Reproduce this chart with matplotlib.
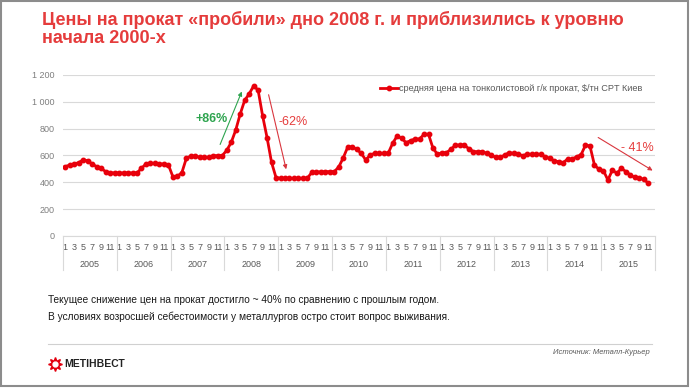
import matplotlib
matplotlib.use("Agg")
import matplotlib.pyplot as plt
from matplotlib.patches import Rectangle
import numpy as np

plt.rcParams['font.family'] = ['Liberation Sans', 'DejaVu Sans']

years = ['2005', '2006', '2007', '2008', '2009', '2010', '2011', '2012', '2013', '2014', '2015']
month_labels = ['1', '3', '5', '7', '9', '11']
prices = [
    517, 529, 537, 547, 567, 561, 537, 517, 505, 480, 472, 470,   # 2005
    470, 470, 470, 470, 470, 505, 537, 542, 542, 537, 537, 530,   # 2006
    442, 445, 472, 579, 596, 596, 586, 586, 586, 599, 599, 599,   # 2007
    638, 697, 788, 908, 1010, 1059, 1118, 1088, 897, 733, 549, 435,  # 2008
    430, 430, 430, 430, 430, 430, 432, 475, 478, 478, 480, 480,   # 2009
    480, 515, 584, 664, 664, 646, 616, 567, 604, 616, 616, 616,   # 2010
    616, 691, 745, 728, 696, 711, 723, 723, 758, 758, 654, 609,   # 2011
    621, 621, 646, 678, 678, 678, 650, 629, 629, 629, 616, 604,   # 2012
    586, 586, 604, 621, 616, 609, 599, 609, 609, 609, 609, 591,   # 2013
    579, 561, 554, 547, 572, 572, 591, 604, 678, 671, 529, 497,   # 2014
    487, 417, 492, 467, 505, 480, 455, 437, 430, 423, 393,        # 2015
]
series_name = 'средняя цена на тонколистовой г/к прокат, $/тн CPT Киев'
title = 'Цены на прокат «пробили» дно 2008 г. и приблизились к уровню\nначала 2000-х'
note1 = 'Текущее снижение цен на прокат достигло ~ 40% по сравнению с прошлым годом.'
note2 = 'В условиях возросшей себестоимости у металлургов остро стоит вопрос выживания.'
source = 'Источник: Металл-Курьер'

W, H = 690, 388
fig = plt.figure(figsize=(W / 100, H / 100), dpi=100)

# decorations layer in pixel coordinates
deco = fig.add_axes([0, 0, 1, 1])
deco.set_xlim(0, W)
deco.set_ylim(H, 0)
deco.axis('off')
deco.add_patch(Rectangle((1, 1), W - 3, H - 3, fill=False, edgecolor='#8c8c8c', lw=1.5))

RED_T = '#e53c3c'
fig.text(42 / W, 1 - 11 / H, title, color=RED_T, fontsize=13, fontweight='bold',
         va='top', ha='left', linespacing=1.08)

# main chart axes
left, right = 63, 655
bottom, top = 236, 75
ax = fig.add_axes([left / W, 1 - bottom / H, (right - left) / W, (bottom - top) / H])
x = np.arange(len(prices))
ax.plot(x, prices, color='#e8000b', lw=2.0, marker='o', markersize=3.2,
        label=series_name, zorder=3)
ax.set_xlim(-0.5, 12 * len(years) - 0.5)
ax.set_ylim(0, 1200)
ax.set_yticks(np.arange(0, 1201, 200))
ax.set_yticklabels(['0', '200', '400', '600', '800', '1 000', '1 200'])
ax.grid(axis='y', color='#d9d9d9', lw=0.8)
ax.set_axisbelow(True)
for s in ['top', 'right', 'left']:
    ax.spines[s].set_visible(False)
ax.spines['bottom'].set_color('#d9d9d9')
ax.tick_params(axis='y', length=0, labelsize=6.5, labelcolor='#7f7f7f', pad=6)

# month ticks
tick_pos = []
tick_lab = []
for yi in range(len(years)):
    for k, m in enumerate(month_labels):
        p = yi * 12 + 2 * k
        tick_pos.append(p)
        tick_lab.append(m)
ax.set_xticks(tick_pos)
ax.set_xticklabels(tick_lab)
ax.tick_params(axis='x', length=0, labelsize=6.5, labelcolor='#595959', pad=5)

# year labels and separators
trans = ax.get_xaxis_transform()
for yi, yl in enumerate(years):
    ax.text(yi * 12 + 5.5, -0.175, yl, transform=trans, ha='center', va='center',
            fontsize=6.5, color='#595959')
for b in range(len(years) + 1):
    ax.plot([b * 12 - 0.5, b * 12 - 0.5], [0, -0.21], transform=trans, color='#d9d9d9',
            lw=0.8, clip_on=False)

leg = ax.legend(loc='upper left', bbox_to_anchor=(0.53, 0.965), frameon=False,
                fontsize=6.6, handlelength=1.9, handletextpad=0.1, borderaxespad=0)
for t in leg.get_texts():
    t.set_color('#595959')

# annotations
GREEN = '#2ea44f'
ARED = '#d9363e'
ax.annotate('', xy=(39.6, 1096), xytext=(34.3, 663), annotation_clip=False,
            arrowprops=dict(arrowstyle='-|>', color=GREEN, lw=0.8, mutation_scale=6))
ax.text(32.6, 870, '+86%', color=GREEN, fontsize=9, fontweight='bold', ha='center', va='center')
ax.annotate('', xy=(49.4, 477), xytext=(45.2, 1073), annotation_clip=False,
            arrowprops=dict(arrowstyle='-|>', color=ARED, lw=0.8, mutation_scale=6))
ax.text(50.9, 848, '-62%', color=RED_T, fontsize=9, ha='center', va='center')
ax.annotate('', xy=(131.5, 477), xytext=(118.3, 745), annotation_clip=False,
            arrowprops=dict(arrowstyle='-|>', color=ARED, lw=0.8, mutation_scale=6))
ax.text(127.5, 656, '- 41%', color=RED_T, fontsize=9, ha='center', va='center')

# notes below
fig.text(48 / W, 1 - 300 / H, note1, fontsize=7.3, color='#1a1a1a', va='center', ha='left')
fig.text(48 / W, 1 - 317 / H, note2, fontsize=7.3, color='#1a1a1a', va='center', ha='left')
deco.plot([48, 652], [344, 344], color='#d0d0d0', lw=0.8)
fig.text(650 / W, 1 - 352 / H, source, fontsize=5.5, color='#595959', style='italic',
         va='center', ha='right')

# logo
deco.plot([55], [364], marker=(8, 1, 0), markersize=10, color='#e3000f', mec='#e3000f')
deco.plot([55], [364], marker='o', markersize=3.5, color='white', mec='white')
fig.text(64 / W, 1 - 364 / H, 'МЕТІНВЕСТ', fontsize=7.5, fontweight='bold', color='#222222',
         va='center', ha='left')

fig.savefig('out.png', dpi=100)
